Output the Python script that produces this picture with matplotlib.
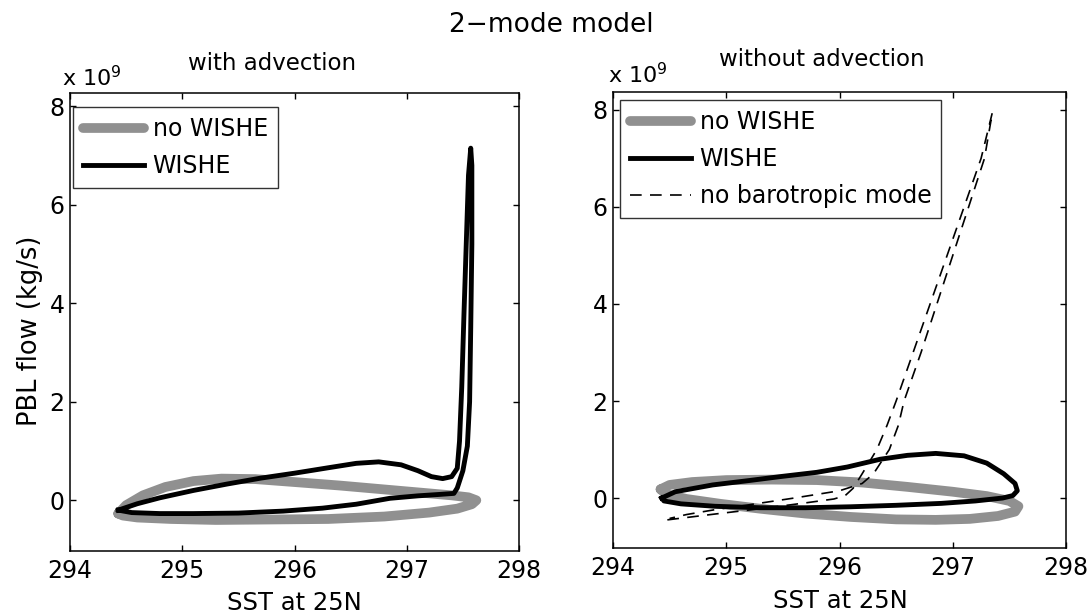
import matplotlib
matplotlib.use("Agg")
import matplotlib.pyplot as plt

plt.rcParams['font.family'] = ['DejaVu Sans']

# ---------------- data (PBL flow in units of 1e9 kg/s) ----------------
# Left panel: with advection
adv_nowishe_x = [294.43, 294.5, 294.65, 294.85, 295.1, 295.35, 295.65, 296.0, 296.4, 296.8,
                 297.15, 297.4, 297.55, 297.62, 297.58, 297.45, 297.2, 296.8, 296.3, 295.8,
                 295.3, 294.9, 294.6, 294.47, 294.43]
adv_nowishe_y = [-0.27, -0.1, 0.1, 0.27, 0.39, 0.44, 0.43, 0.37, 0.3, 0.22,
                 0.15, 0.1, 0.06, 0.0, -0.08, -0.17, -0.25, -0.33, -0.38, -0.39,
                 -0.4, -0.38, -0.35, -0.31, -0.27]

adv_wishe_x = [294.43, 294.6, 294.8, 295.1, 295.4, 295.7, 296.0, 296.3, 296.55, 296.75,
               296.95, 297.1, 297.22, 297.32, 297.4, 297.45, 297.47, 297.49, 297.51, 297.53,
               297.55, 297.57, 297.58, 297.58, 297.57, 297.56, 297.54, 297.5, 297.45, 297.42,
               297.3, 297.1, 296.85, 296.55, 296.25, 295.9, 295.5, 295.1, 294.8, 294.55, 294.43]
adv_wishe_y = [-0.2, -0.07, 0.05, 0.2, 0.33, 0.45, 0.55, 0.66, 0.75, 0.78,
               0.72, 0.6, 0.48, 0.44, 0.48, 0.65, 1.2, 2.3, 3.8, 5.2,
               6.6, 7.15, 6.8, 5.2, 3.5, 2.0, 1.1, 0.6, 0.25, 0.14,
               0.12, 0.09, 0.04, -0.08, -0.16, -0.22, -0.26, -0.27, -0.27, -0.25, -0.2]

# Right panel: without advection
noadv_nowishe_x = [294.42, 294.5, 294.7, 295.0, 295.4, 295.8, 296.2, 296.6, 297.0, 297.3,
                   297.5, 297.58, 297.55, 297.4, 297.15, 296.85, 296.5, 296.1, 295.7, 295.3,
                   294.95, 294.65, 294.47, 294.42]
noadv_nowishe_y = [0.18, 0.27, 0.33, 0.37, 0.38, 0.37, 0.32, 0.23, 0.13, 0.04,
                   -0.06, -0.17, -0.28, -0.37, -0.43, -0.45, -0.44, -0.39, -0.32, -0.22,
                   -0.12, -0.02, 0.08, 0.18]

noadv_wishe_x = [294.43, 294.55, 294.88, 295.2, 295.47, 295.8, 296.07, 296.36, 296.6, 296.85,
                 297.1, 297.3, 297.45, 297.55, 297.57, 297.53, 297.44, 297.2, 296.9, 296.5,
                 296.1, 295.7, 295.3, 294.9, 294.6, 294.45, 294.43]
noadv_wishe_y = [0.0, 0.13, 0.27, 0.36, 0.44, 0.53, 0.64, 0.8, 0.88, 0.92,
                 0.87, 0.72, 0.5, 0.3, 0.15, 0.05, 0.0, -0.06, -0.11, -0.15,
                 -0.18, -0.2, -0.2, -0.17, -0.12, -0.06, 0.0]

nobaro_x = [294.48, 294.9, 295.3, 295.7, 295.95, 296.05, 296.12, 296.2, 296.33, 296.42,
            296.5, 296.65, 296.8, 296.95, 297.1, 297.25, 297.35,
            297.28, 297.14, 297.0, 296.86, 296.72, 296.57, 296.52, 296.44, 296.3,
            296.2, 296.0, 295.6, 295.2, 294.9, 294.65, 294.5]
nobaro_y = [-0.45, -0.33, -0.22, -0.1, -0.02, 0.05, 0.2, 0.5, 1.0, 1.5,
            2.0, 3.0, 4.0, 5.0, 6.0, 7.0, 7.95,
            7.0, 6.0, 5.0, 4.0, 3.0, 2.0, 1.5, 1.0, 0.5,
            0.3, 0.15, 0.0, -0.14, -0.24, -0.34, -0.42]

xticks = [294, 295, 296, 297, 298]
yticks = [0, 2, 4, 6, 8]
labels = ['no WISHE', 'WISHE', 'no barotropic mode']

GRAY = '#909090'
W, H = 1092, 615

fig = plt.figure(figsize=(W / 100, H / 100), dpi=100)


def px_rect(x0, y0, x1, y1):
    return [x0 / W, 1 - y1 / H, (x1 - x0) / W, (y1 - y0) / H]


ax1 = fig.add_axes(px_rect(70, 93, 519, 551))
ax2 = fig.add_axes(px_rect(613, 92, 1066, 548))

for ax, ylim in ((ax1, (-1.03, 8.27)), (ax2, (-1.03, 8.37))):
    ax.set_xlim(294, 298)
    ax.set_ylim(*ylim)
    ax.set_xticks(xticks)
    ax.set_yticks(yticks)
    ax.tick_params(direction='in', top=True, right=True, length=4.5, width=1.0,
                   labelsize=17)
    ax.tick_params(axis='x', pad=6)
    ax.tick_params(axis='y', pad=4)
    for s in ax.spines.values():
        s.set_linewidth(1.1)

leg_kw = dict(loc='upper left', borderaxespad=0, fontsize=17, frameon=True,
              fancybox=False, edgecolor='black', handlelength=2.6, handletextpad=0.35,
              labelspacing=0.55, borderpad=0.42)

# left panel
l1, = ax1.plot(adv_nowishe_x, adv_nowishe_y, color=GRAY, lw=7, solid_capstyle='round',
               label=labels[0])
l2, = ax1.plot(adv_wishe_x, adv_wishe_y, color='black', lw=3.5, solid_joinstyle='round',
               label=labels[1])
leg1 = ax1.legend(handles=[l1, l2], bbox_to_anchor=(0.007, 0.969), **leg_kw)
leg1.get_frame().set_linewidth(1.0)

# right panel
r1, = ax2.plot(noadv_nowishe_x, noadv_nowishe_y, color=GRAY, lw=7, solid_capstyle='round',
               label=labels[0])
r2, = ax2.plot(noadv_wishe_x, noadv_wishe_y, color='black', lw=3.5, solid_joinstyle='round',
               label=labels[1])
r3, = ax2.plot(nobaro_x, nobaro_y, color='black', lw=1.2, linestyle=(0, (7, 5)),
               label=labels[2])
leg2 = ax2.legend(handles=[r1, r2, r3], bbox_to_anchor=(0.0155, 0.982), **leg_kw)
leg2.get_frame().set_linewidth(1.0)


def ftext(x, y, s, **kw):
    fig.text(x / W, 1 - y / H, s, **kw)


ftext(551, 25, '2\u2212mode model', ha='center', va='center', fontsize=19)
ftext(272, 63, 'with advection', ha='center', va='center', fontsize=16.5)
ftext(822, 60, 'without advection', ha='center', va='center', fontsize=16.5)
ftext(62, 86, r'x 10$^{9}$', ha='left', va='baseline', fontsize=16)
ftext(608, 83, r'x 10$^{9}$', ha='left', va='baseline', fontsize=16)
ftext(294, 603, 'SST at 25N', ha='center', va='center', fontsize=17.5)
ftext(840, 601, 'SST at 25N', ha='center', va='center', fontsize=17.5)
ftext(30, 331, 'PBL flow (kg/s)', ha='center', va='center', rotation=90, fontsize=18.5)

fig.savefig('out.png', dpi=100)
